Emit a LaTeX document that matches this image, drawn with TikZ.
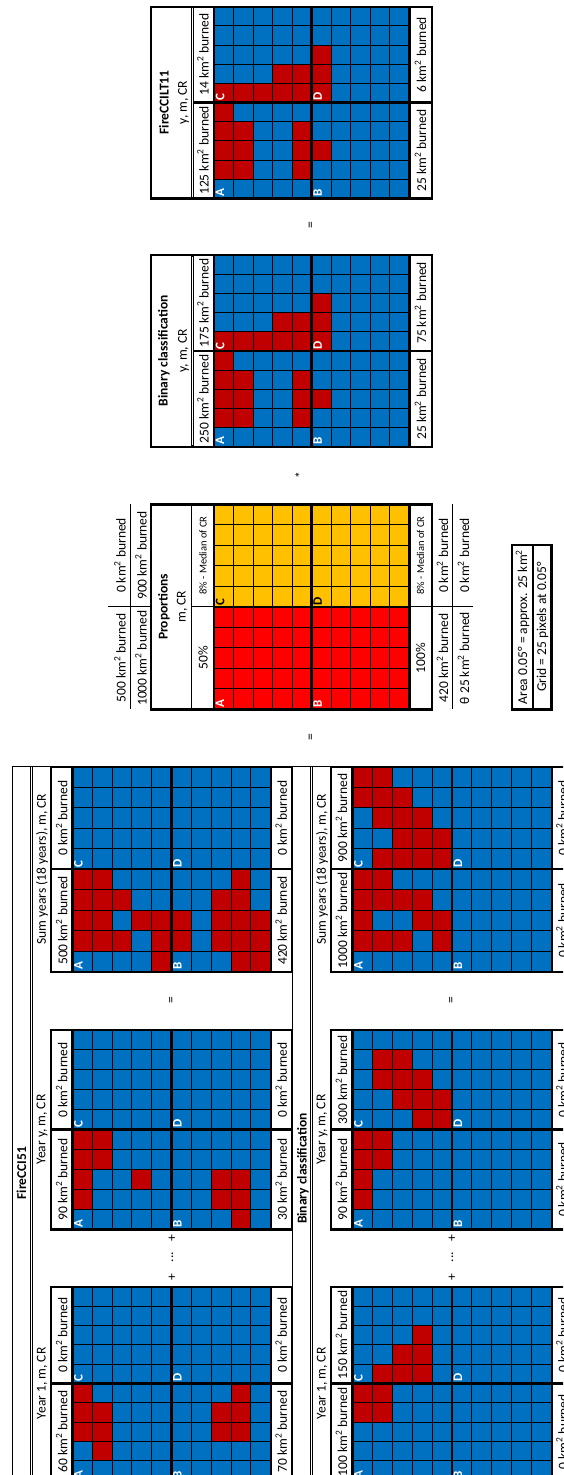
\documentclass[tikz,border=0pt]{standalone}
\usepackage{fontspec}
\setmainfont{Carlito}
\definecolor{colb}{HTML}{0070C0}
\definecolor{colR}{HTML}{C00000}
\definecolor{colP}{HTML}{FF0000}
\definecolor{colO}{HTML}{FFC000}

% row lists: row 1..10 (image left to right), each col 1..10 (image bottom to top)
\def\gFone{{b,b,R,R,R,b,b,b,b,b},{b,R,R,R,b,b,b,b,b,b},{b,b,b,b,b,b,b,b,b,b},{b,b,b,b,b,b,b,b,b,b},{b,b,b,b,b,b,b,b,b,b},{b,b,b,b,b,b,b,b,b,b},{b,b,b,b,b,b,b,b,b,b},{b,b,R,R,b,b,b,b,b,b},{b,b,R,R,R,b,b,b,b,b},{b,b,b,b,b,b,b,b,b,b}}
\def\gFy{{b,R,R,R,R,b,b,b,b,b},{b,b,b,R,R,b,b,b,b,b},{b,b,b,b,b,b,b,b,b,b},{b,b,R,b,b,b,b,b,b,b},{b,b,b,b,b,b,b,b,b,b},{b,b,b,b,b,b,b,b,b,b},{b,b,b,b,b,b,b,b,b,b},{b,R,R,b,b,b,b,b,b,b},{R,R,R,b,b,b,b,b,b,b},{b,b,b,b,b,b,b,b,b,b}}
\def\gFs{{b,R,R,R,R,b,b,b,b,b},{b,R,R,R,R,b,b,b,b,b},{b,R,b,R,b,b,b,b,b,b},{b,b,R,b,b,b,b,b,b,b},{R,R,R,b,b,b,b,b,b,b},{b,R,R,b,b,b,b,b,b,b},{b,b,b,b,b,b,b,b,b,b},{b,R,R,R,b,b,b,b,b,b},{R,R,R,R,R,b,b,b,b,b},{R,R,R,b,b,b,b,b,b,b}}
\def\gBone{{b,b,b,R,R,b,b,b,b,b},{b,b,b,R,R,R,b,b,b,b},{b,b,b,b,b,R,R,b,b,b},{b,b,b,b,b,R,R,R,b,b},{b,b,b,b,b,b,b,b,b,b},{b,b,b,b,b,b,b,b,b,b},{b,b,b,b,b,b,b,b,b,b},{b,b,b,b,b,b,b,b,b,b},{b,b,b,b,b,b,b,b,b,b},{b,b,b,b,b,b,b,b,b,b}}
\def\gBy{{b,R,R,R,R,b,b,b,b,b},{b,b,b,R,R,b,b,R,R,b},{b,b,b,b,b,b,R,R,R,b},{b,b,b,b,b,R,R,R,b,b},{b,b,b,b,b,R,R,b,b,b},{b,b,b,b,b,b,b,b,b,b},{b,b,b,b,b,b,b,b,b,b},{b,b,b,b,b,b,b,b,b,b},{b,b,b,b,b,b,b,b,b,b},{b,b,b,b,b,b,b,b,b,b}}
\def\gBs{{b,R,R,R,R,b,b,b,R,R},{b,R,b,R,R,R,b,R,R,R},{b,R,b,R,b,R,R,R,R,b},{b,b,R,R,b,R,R,R,b,b},{b,R,R,b,b,R,R,b,b,b},{b,b,b,b,b,b,b,b,b,b},{b,b,b,b,b,b,b,b,b,b},{b,b,b,b,b,b,b,b,b,b},{b,b,b,b,b,b,b,b,b,b},{b,b,b,b,b,b,b,b,b,b}}
\def\gRb{{b,R,R,R,R,R,b,b,b,b},{b,R,R,R,b,R,b,b,b,b},{b,b,b,b,b,R,b,b,b,b},{b,b,b,b,b,R,R,b,b,b},{b,R,R,R,b,R,R,b,b,b},{b,b,R,b,b,R,R,R,b,b},{b,b,b,b,b,b,b,b,b,b},{b,b,b,b,b,b,b,b,b,b},{b,b,b,b,b,b,b,b,b,b},{b,b,b,b,b,b,b,b,b,b}}
\def\gPr{{P,P,P,P,P,O,O,O,O,O},{P,P,P,P,P,O,O,O,O,O},{P,P,P,P,P,O,O,O,O,O},{P,P,P,P,P,O,O,O,O,O},{P,P,P,P,P,O,O,O,O,O},{P,P,P,P,P,O,O,O,O,O},{P,P,P,P,P,O,O,O,O,O},{P,P,P,P,P,O,O,O,O,O},{P,P,P,P,P,O,O,O,O,O},{P,P,P,P,P,O,O,O,O,O}}

% #1 x0, #2 cell w, #3 y bottom, #4 cell h, #5 rows
\newcommand\drawgrid[5]{%
  \foreach \rowcols [count=\rowi] in #5 {%
    \foreach \cellc [count=\coli] in \rowcols {%
      \draw[cellline, fill=col\cellc] ({#1+(\rowi-1)*#2},{#3-\coli*#4}) rectangle ({#1+\rowi*#2},{#3-(\coli-1)*#4});
    }%
  }%
  \draw[thickline] (#1,#3) rectangle ({#1+10*#2},{#3-10*#4});
  \draw[thickline] ({#1+5*#2},#3) -- ({#1+5*#2},{#3-10*#4});
  \draw[thickline] (#1,{#3-5*#4}) -- ({#1+10*#2},{#3-5*#4});
}
% #1 outline left, #2 outline right, #3 x0, #4 w, #5 ybot, #6 h, #7 rows
\newcommand\lefttable[7]{%
  \drawgrid{#3}{#4}{#5}{#6}{#7}
  \draw[thickline] (#1,#5) rectangle (#2,{#5-10*#6});
  \draw[thickline] (#1,{#5-5*#6}) -- (#2,{#5-5*#6});
}
% #1 x0, #2 w, #3 ybot, #4 h, #5 colour AB, #6 colour CD, #7 name
\newcommand\quadletters[7]{%
  \node[lettr,text=#5] (#7A) at (#1,#3) {A};
  \node[lettr,text=#6] (#7C) at (#1,{#3-5*#4}) {C};
  \node[lettr,text=#5] (#7B) at ({#1+5*#2},#3) {B};
  \node[lettr,text=#6] (#7D) at ({#1+5*#2},{#3-5*#4}) {D};
}
% #1 px top labels, #2 px bottom labels, #3 py C, #4 py A, #5 A, #6 C, #7 B, #8 D, #9 name
\newcommand\quadlabels[9]{%
  \node[txt] (#9a) at (#1,#4) {#5};
  \node[txt] (#9c) at (#1,#3) {#6};
  \node[txt] (#9b) at (#2,#4) {#7};
  \node[txt] (#9d) at (#2,#3) {#8};
}
\newcommand\kb[1]{#1 km\textsuperscript{2} burned}

\begin{document}
\begin{tikzpicture}[x=1pt,y=-1pt,
  txt/.style={rotate=90, inner sep=0pt, font=\fontsize{13.5}{15}\selectfont},
  btxt/.style={rotate=90, inner sep=0pt, font=\fontsize{13.5}{15}\selectfont\bfseries},
  stxt/.style={rotate=90, inner sep=0pt, font=\fontsize{10.5}{12}\selectfont},
  lettr/.style={rotate=90, inner sep=1.6pt, anchor=north west, font=\fontsize{13}{14}\selectfont\bfseries},
  cellline/.style={draw=black, line width=0.9pt},
  thickline/.style={line width=2.4pt, line cap=rect},
  thinline/.style={line width=0.9pt},
  dblline/.style={double, double distance=1.4pt, line width=0.6pt}]
\useasboundingbox (0,0) rectangle (563,1475);
\clip (0,0) rectangle (563,1475);
\fill[white] (0,0) rectangle (563,1475);

% ---------- left frame ----------
\draw[thinline] (12.7,1475) -- (12.7,766.7) -- (563,766.7);
\draw[thinline] (292,766.7) -- (292,1475);
\draw[dblline] (31.5,766.7) -- (31.5,1475);
\draw[dblline] (311.5,766.7) -- (311.5,1475);

\node[btxt] (t1) at (21.5,1173) {FireCCI51};
\node[btxt] (t2) at (303,1168.5) {Binary classification};

% block 1 : FireCCI51
\lefttable{51}{291.7}{72.3}{19.84}{1480}{19.33}{\gFone}
\lefttable{51}{291.7}{72.3}{19.84}{1229.3}{19.93}{\gFy}
\lefttable{51}{291.7}{72.3}{19.84}{971.7}{20.5}{\gFs}
\quadletters{72.3}{19.84}{1480}{19.33}{white}{white}{fa}
\quadletters{72.3}{19.84}{1229.3}{19.93}{white}{white}{fb}
\quadletters{72.3}{19.84}{971.7}{20.5}{white}{white}{fc}
\node[txt] (h1) at (42,1383.3) {Year 1, m, CR};
\node[txt] (h2) at (42,1129.6) {Year y, m, CR};
\node[txt] (h3) at (42,869.2) {Sum years (18 years), m, CR};
\quadlabels{61.7}{281.2}{1335}{1431.7}{\kb{60}}{\kb{0}}{\kb{70}}{\kb{0}}{fla}
\quadlabels{61.7}{281.2}{1079.8}{1179.5}{\kb{90}}{\kb{0}}{\kb{30}}{\kb{0}}{flb}
\quadlabels{61.7}{281.2}{817.95}{920.45}{\kb{500}}{\kb{0}}{\kb{420}}{\kb{0}}{flc}
\node[txt] (fp1) at (172.3,1238.3) {+};
\node[txt] (fe1) at (172.3,1257) {...};
\node[txt] (fp2) at (172.3,1276.7) {+};
\node[txt] (fq1) at (172.3,1000) {=};

% block 2 : Binary classification
\lefttable{330.7}{573}{352.3}{19.94}{1480}{19.33}{\gBone}
\lefttable{330.7}{573}{352.3}{19.94}{1229.3}{19.93}{\gBy}
\lefttable{330.7}{573}{352.3}{19.94}{971.7}{20.5}{\gBs}
\quadletters{352.3}{19.94}{1480}{19.33}{white}{white}{ba}
\quadletters{352.3}{19.94}{1229.3}{19.93}{white}{white}{bb}
\quadletters{352.3}{19.94}{971.7}{20.5}{white}{white}{bc}
\node[txt] (h4) at (322,1383.3) {Year 1, m, CR};
\node[txt] (h5) at (322,1129.6) {Year y, m, CR};
\node[txt] (h6) at (322,869.2) {Sum years (18 years), m, CR};
\quadlabels{341.5}{562}{1335}{1431.7}{\kb{100}}{\kb{150}}{\kb{0}}{\kb{0}}{bla}
\quadlabels{341.5}{562}{1079.8}{1179.5}{\kb{90}}{\kb{300}}{\kb{0}}{\kb{0}}{blb}
\quadlabels{341.5}{562}{817.95}{920.45}{\kb{1000}}{\kb{900}}{\kb{0}}{\kb{0}}{blc}
\node[txt] (bp1) at (452.3,1238.3) {+};
\node[txt] (be1) at (452.3,1257) {...};
\node[txt] (bp2) at (452.3,1276.7) {+};
\node[txt] (bq1) at (452.3,1000) {=};

% ---------- right : Proportions ----------
\drawgrid{214}{19.53}{709.3}{20.5}{\gPr}
\draw[thickline] (150.7,709.3) rectangle (431.7,504.3);
\draw[thinline] (191.7,504.3) -- (191.7,709.3);
\draw[thinline] (191.7,606.8) -- (214,606.8);
\draw[thinline] (409.3,606.8) -- (473.3,606.8);
\draw[thinline] (452.7,504.3) -- (452.7,709.3);
\draw[thinline] (130.7,504.3) -- (130.7,709.3);
\draw[thinline] (108,606.8) -- (150.7,606.8);
\quadletters{214}{19.53}{709.3}{20.5}{white}{black}{pL}
\node[btxt] (pt) at (164,606.8) {Proportions};
\node[txt] (pm) at (182,606.8) {m, CR};
\node[stxt] (pl1) at (203,555.5) {8\% - Median of CR};
\node[txt] (pl2) at (203,658) {50\%};
\node[stxt] (pr1) at (420.5,555.5) {8\% - Median of CR};
\node[txt] (pr2) at (420.5,658) {100\%};
\node[txt] (po1) at (120,658) {\kb{500}};
\node[txt] (po2) at (120,555.5) {\kb{0}};
\node[txt] (po3) at (141,658) {\kb{1000}};
\node[txt] (po4) at (141,555.5) {\kb{900}};
\node[txt] (pu1) at (442.5,658) {\kb{420}};
\node[txt] (pu2) at (442.5,555.5) {\kb{0}};
\node[txt] (pu3) at (463.5,658) {θ 25 km\textsuperscript{2} burned};
\node[txt] (pu4) at (463.5,555.5) {\kb{0}};

% ---------- right : Binary classification ----------
\drawgrid{214}{19.53}{446.7}{19.17}{\gRb}
\draw[thickline] (150.7,446.7) rectangle (431.7,255);
\draw[thickline] (192.3,350.85) -- (431.7,350.85);
\draw[thickline] (192.3,255) -- (192.3,446.7);
\draw[white,line width=0.7pt] (192.3,256.6) -- (192.3,445.1);
\quadletters{214}{19.53}{446.7}{19.17}{white}{white}{rL}
\node[btxt] (rt) at (164,350.85) {Binary classification};
\node[txt] (rm) at (183.5,350.85) {y, m, CR};
\quadlabels{203}{420.5}{302.9}{398.8}{\kb{250}}{\kb{175}}{\kb{25}}{\kb{75}}{rl}

% ---------- right : FireCCILT11 ----------
\drawgrid{214}{19.53}{198.3}{19.16}{\gRb}
\draw[thickline] (150.7,198.3) rectangle (431.7,6.7);
\draw[thickline] (192.3,102.5) -- (431.7,102.5);
\draw[thickline] (192.3,6.7) -- (192.3,198.3);
\draw[white,line width=0.7pt] (192.3,8.3) -- (192.3,196.7);
\quadletters{214}{19.53}{198.3}{19.16}{white}{white}{lL}
\node[btxt] (lt) at (164,102.5) {FireCCILT11};
\node[txt] (lm) at (183.5,102.5) {y, m, CR};
\quadlabels{203}{420.5}{54.6}{150.4}{\kb{125}}{\kb{14}}{\kb{25}}{\kb{6}}{ll}

% ---------- operators ----------
\node[txt] (eqa) at (311.7,736.7) {=};
\node[txt] (sta) at (300,475) {*};
\node[txt] (eqb) at (311.7,225) {=};

% ---------- area box ----------
\draw[thickline] (511.7,545) rectangle (551.3,709.3);
\draw[thickline] (533,545) -- (533,709.3);
\node[txt] (ar1) at (522.5,627) {Area 0.05° = approx. 25 km\textsuperscript{2}};
\node[txt] (ar2) at (542.5,627) {Grid = 25 pixels at 0.05°};
\end{tikzpicture}
\end{document}
